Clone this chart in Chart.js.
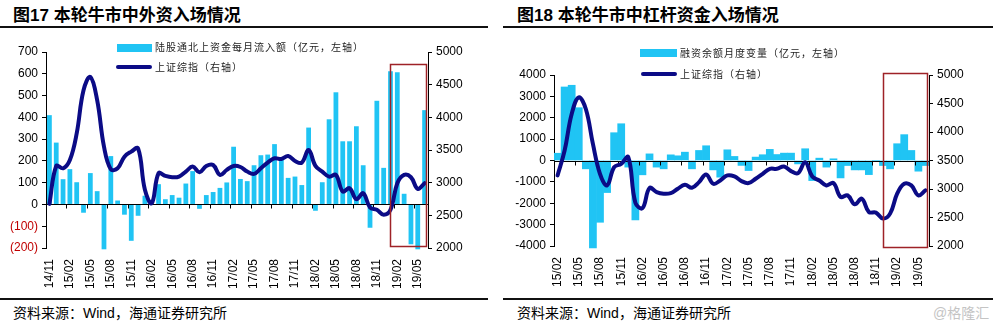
<!DOCTYPE html>
<html>
<head>
<meta charset="utf-8">
<script src="https://cdn.jsdelivr.net/npm/chart.js@4/dist/chart.umd.min.js"></script>
<style>
body { margin: 0; background: #fff; width: 994px; height: 321px; position: relative; overflow: hidden;
       font-family: "Liberation Sans", Arial, "Noto Sans CJK SC", sans-serif; color: #000; }
.title { position: absolute; top: 1px; font-size: 17px; font-weight: bold; white-space: nowrap; }
.rule { position: absolute; height: 1.5px; background: #111; }
.src { position: absolute; top: 302px; font-size: 14px; white-space: nowrap; }
.mark { position: absolute; top: 302px; font-size: 14px; color: #c4c4c4; white-space: nowrap; }
.lg { position: absolute; font-family: "Noto Sans CJK SC", sans-serif; font-size: 10px; letter-spacing: 1px;
      white-space: nowrap; line-height: 12px; color: #222; }
.sw-bar { position: absolute; background: #20C4F4; }
.sw-line { position: absolute; height: 4px; border-radius: 2px; background: #0B0B86; }
.wrap { position: absolute; }
</style>
</head>
<body>

<div class="title" style="left:13px">图17 本轮牛市中外资入场情况</div>
<div class="title" style="left:517px">图18 本轮牛市中杠杆资金入场情况</div>
<div class="rule" style="left:0;width:488px;top:26px"></div>
<div class="rule" style="left:503px;width:490px;top:26px"></div>

<div class="wrap" style="left:0;top:30px;width:497px;height:265px"><canvas id="c1"></canvas></div>
<div class="wrap" style="left:502px;top:30px;width:492px;height:265px"><canvas id="c2"></canvas></div>

<div class="sw-bar" style="left:117px;top:44px;width:35px;height:8px"></div>
<div class="lg" style="left:155px;top:41px">陆股通北上资金每月流入额（亿元，左轴）</div>
<div class="sw-line" style="left:116px;top:65px;width:36px"></div>
<div class="lg" style="left:155px;top:61px">上证综指（右轴）</div>

<div class="sw-bar" style="left:640px;top:49px;width:37px;height:8px"></div>
<div class="lg" style="left:680px;top:47px">融资余额月度变量（亿元，左轴）</div>
<div class="sw-line" style="left:641px;top:72px;width:36px"></div>
<div class="lg" style="left:680px;top:68px">上证综指（右轴）</div>

<div class="rule" style="left:0;width:488px;top:298px"></div>
<div class="rule" style="left:503px;width:490px;top:298px"></div>
<div class="src" style="left:13px">资料来源：Wind，海通证券研究所</div>
<div class="src" style="left:517px">资料来源：Wind，海通证券研究所</div>
<div class="mark" style="left:933px">@格隆汇</div>

<script>
// 图17: 陆股通北上资金 vs 上证综指
const months1 = ['14/11','14/12','15/01','15/02','15/03','15/04','15/05','15/06','15/07','15/08','15/09','15/10',
  '15/11','15/12','16/01','16/02','16/03','16/04','16/05','16/06','16/07','16/08','16/09','16/10',
  '16/11','16/12','17/01','17/02','17/03','17/04','17/05','17/06','17/07','17/08','17/09','17/10',
  '17/11','17/12','18/01','18/02','18/03','18/04','18/05','18/06','18/07','18/08','18/09','18/10',
  '18/11','18/12','19/01','19/02','19/03','19/04','19/05','19/06'];
const northbound = [410, 284, 116, 162, 102, -38, 144, 61, -206, 222, 18, -47,
  -167, -52, 40, 3, 93, 24, 43, 31, 96, 153, -20, 43,
  57, 76, 101, 265, 117, 107, 180, 226, 229, 277, 205, 122,
  128, 89, 353, -29, 102, 391, 515, 290, 290, 359, 180, -107,
  476, 168, 612, 607, 49, -183, -206, 433];
const shIndex1 = [2675, 3256, 3220, 3347, 3754, 4415, 4619, 4263, 3550, 3205, 3220, 3398,
  3475, 3525, 2890, 2686, 3144, 3103, 3083, 3093, 3169, 3246, 3159, 3256,
  3271, 3119, 3195, 3256, 3240, 3170, 3134, 3220, 3307, 3373, 3363, 3408,
  3332, 3307, 3500, 3256, 3169, 3093, 3119, 2864, 2915, 2747, 2839, 2620,
  2585, 2508, 2585, 2992, 3119, 3083, 2905, 2992];

// 图18: 融资余额月度变量 vs 上证综指
const months2 = ['15/02','15/03','15/04','15/05','15/06','15/07','15/08','15/09','15/10','15/11','15/12',
  '16/01','16/02','16/03','16/04','16/05','16/06','16/07','16/08','16/09','16/10','16/11','16/12',
  '17/01','17/02','17/03','17/04','17/05','17/06','17/07','17/08','17/09','17/10','17/11','17/12',
  '18/01','18/02','18/03','18/04','18/05','18/06','18/07','18/08','18/09','18/10','18/11','18/12',
  '19/01','19/02','19/03','19/04','19/05','19/06'];
const marginChange = [340, 3440, 3520, 2470, -390, -4090, -2890, -1500, 1300, 1720, -310,
  -2780, -670, 310, -310, -390, 265, 220, 390, -390, 470, 690, -440,
  -780, 500, 190, -230, -470, 160, 270, 520, 280, 345, 345, -160,
  550, -940, 110, -310, 80, -815, -235, -440, -440, -660, 0, -235,
  -390, 785, 1210, 470, -500, -235];
const shIndex2 = [3238, 3675, 4315, 4607, 4403, 3791, 3267, 3063, 3384, 3442, 3558,
  2760, 2665, 3017, 2947, 2918, 2929, 3005, 3075, 3022, 3121, 3255, 3092,
  3150, 3238, 3220, 3139, 3104, 3180, 3267, 3354, 3354, 3395, 3314, 3279,
  3471, 3220, 3150, 3063, 3104, 2859, 2888, 2731, 2830, 2597, 2586, 2481,
  2568, 2918, 3092, 3063, 2888, 2976];

const BAR = '#20C4F4';
const NAVY = '#0B0B86';
const BOX = '#9E2227';
const FONT = { family: '"Liberation Sans", Arial, sans-serif', size: 12 };

// zero line with small ticks under every labelled month, drawn just after the bars
const zeroLine = {
  id: 'zeroLine',
  afterDatasetDraw(chart, args) {
    if (args.meta.type !== 'bar') return;
    const { ctx, chartArea, scales } = chart;
    const y = Math.round(scales.y.getPixelForValue(0)) + 0.5;
    const step = scales.x.getPixelForValue(1) - scales.x.getPixelForValue(0);
    ctx.save();
    ctx.strokeStyle = '#000';
    ctx.lineWidth = 1;
    ctx.beginPath();
    ctx.moveTo(chartArea.left, y);
    ctx.lineTo(chartArea.right, y);
    for (let i = 0; i < chart.data.labels.length; i += 3) {
      const x = Math.round(scales.x.getPixelForValue(i) - step / 2) + 0.5;
      ctx.moveTo(x, y);
      ctx.lineTo(x, y + 4);
    }
    ctx.stroke();
    ctx.restore();
  }
};

// red highlight frame from a given month to the right edge
const frameBox = {
  id: 'frameBox',
  afterDatasetsDraw(chart, args, opts) {
    const { ctx, chartArea, scales } = chart;
    const x0 = scales.x.getPixelForValue(chart.data.labels.indexOf(opts.from));
    const yTop = scales.y1.getPixelForValue(opts.top);
    const yBot = scales.y1.getPixelForValue(opts.bottom);
    ctx.save();
    ctx.strokeStyle = BOX;
    ctx.lineWidth = 1.5;
    ctx.strokeRect(Math.round(x0) + 0.5, Math.round(yTop) + 0.5, chartArea.right - Math.round(x0) - 2, Math.round(yBot - yTop));
    ctx.restore();
  }
};

function build(id, labels, bars, line, o) {
  return new Chart(document.getElementById(id), {
    type: 'bar',
    data: {
      labels: labels,
      datasets: [
        { type: 'line', data: line, yAxisID: 'y1', borderColor: NAVY, borderWidth: 4, pointRadius: 0,
          tension: 0.4, order: 0, borderCapStyle: 'round', borderJoinStyle: 'round' },
        { type: 'bar', data: bars, yAxisID: 'y', backgroundColor: BAR, borderWidth: 0, order: 1,
          barPercentage: o.barPct, categoryPercentage: 1, clip: { left: 0, top: 0, right: 0, bottom: 4 } }
      ]
    },
    options: {
      responsive: true,
      maintainAspectRatio: false,
      animation: false,
      layout: { padding: { top: o.top, left: 0, right: 0, bottom: 0 } },
      plugins: { legend: { display: false }, tooltip: { enabled: false }, frameBox: o.box },
      scales: {
        x: {
          grid: { display: false },
          border: { display: false },
          ticks: { autoSkip: false, minRotation: 90, maxRotation: 90, padding: 3, color: '#000', font: FONT,
                   callback: (v, i) => (i % 3 === 0 ? labels[i] : '') },
          afterFit: s => { s.height = o.xH; }
        },
        y: {
          position: 'left', min: o.yMin, max: o.yMax,
          ticks: { stepSize: o.yStep, padding: 4, font: FONT, color: o.yColor, callback: o.yFmt },
          grid: { drawOnChartArea: false, tickLength: 4, color: '#000' },
          border: { color: '#000', width: 1 },
          afterFit: s => { s.width = o.yW; }
        },
        y1: {
          position: 'right', min: 2000, max: 5000,
          ticks: { stepSize: 500, padding: 4, font: FONT, color: '#000', callback: v => String(v) },
          grid: { drawOnChartArea: false, tickLength: 4, color: '#000' },
          border: { color: '#000', width: 1 },
          afterFit: s => { s.width = o.y1W; }
        }
      }
    },
    plugins: [zeroLine, frameBox]
  });
}

build('c1', months1, northbound, shIndex1, {
  barPct: 0.7, top: 22, xH: 47, yW: 46, y1W: 69,
  yMin: -200, yMax: 700, yStep: 100,
  yColor: c => (c.tick.value < 0 ? '#C00000' : '#000'),
  yFmt: v => (v < 0 ? '(' + (-v) + ')' : String(v)),
  box: { from: '19/01', top: 4820, bottom: 2030 }
});

build('c2', months2, marginChange, shIndex2, {
  barPct: 1, top: 45, xH: 49, yW: 52, y1W: 65,
  yMin: -4000, yMax: 4000, yStep: 1000,
  yColor: '#000',
  yFmt: v => String(v),
  box: { from: '18/12', top: 5030, bottom: 1970 }
});
</script>
</body>
</html>
